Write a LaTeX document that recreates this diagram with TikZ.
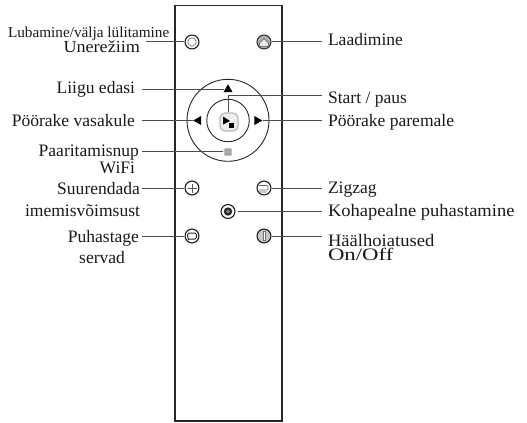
\documentclass[tikz,border=0pt]{standalone}
\usepackage{fontspec}
\setmainfont{Liberation Serif}
\usetikzlibrary{shapes.geometric}
\tikzset{
  lbl/.style={inner sep=0pt,outer sep=0pt,text=black!90,font=\fontsize{17.6}{19}\selectfont},
  lr/.style={lbl,anchor=base east},
  ll/.style={lbl,anchor=base west},
  btn/.style={circle,draw=black!90,line width=1.1pt,minimum size=14pt,inner sep=0pt,fill=white},
  ring/.style={circle,draw=black!85,line width=0.9pt,inner sep=0pt,fill=none},
  tri/.style={regular polygon,regular polygon sides=3,fill=black,inner sep=0pt,minimum size=10.5bp,draw=none},
  conn/.style={draw=black!70,line width=0.9pt},
  ico/.style={draw=black!60,line width=0.6pt,fill=none},
}
\begin{document}
\begin{tikzpicture}[x=1bp,y=-1bp]
\useasboundingbox (0,0) rectangle (527,422);
% remote body
\draw[black!85,line width=1.5pt] (174.8,5.3) rectangle (282,421.2);
% wheel
\node[ring,minimum size=82bp] (wheel) at (228,120.3) {};
\node[ring,minimum size=42.5bp] (hub) at (228,120.5) {};
% buttons
\node[btn] (power) at (192,42) {};
\node[btn,draw=black!80,fill=black!30] (dock) at (264,42) {};
\node[tri] (up) at (228,89.5) {};
\node[tri,rotate=90] (left) at (198.5,120.5) {};
\node[tri,rotate=-90] (right) at (257,120.5) {};
\node[draw=black!28,fill=black!7,line width=1.2pt,rounded corners=5bp,minimum size=18bp,inner sep=0pt] (start) at (229,122) {};
\node[draw=black!40,fill=black!25,rounded corners=1.5pt,minimum size=7.5pt,inner sep=0pt] (wifi) at (228,152) {};
\node[btn] (plus) at (192,188) {};
\node[btn] (zig) at (264,188) {};
\node[btn] (spot) at (228,211.5) {};
\node[btn,fill=black!22] (voice) at (264,236) {};
\node[btn] (edge) at (192,236) {};
% icons
\draw[ico] (power) circle (4.2bp);
\draw[black!70,fill=black!8,line width=0.5pt] (259.5,43) -- (264,38.5) -- (268.5,43) -- (268.5,46.5) -- (259.5,46.5) -- cycle;
\fill[black] (223,116.5) -- (223,124.5) -- (230,121) -- cycle;
\fill[black] (229,123) rectangle (234,128);
\draw[black!60,line width=0.5pt] (228,152) circle (2.2bp);
\draw[black!65,line width=0.7pt] (187.5,188) -- (196.5,188) (192,183.5) -- (192,192.5);
\draw[ico,rounded corners=1bp] (259,185.5) -- (268,185.5) -- (268,190) -- (259,190) (259,192) -- (267,192);
\fill[black!85] (228,211.5) circle (4.2bp);
\fill[black!45] (228,211.5) circle (1.8bp);
\draw[black!55,fill=white,line width=0.5pt] (263,231) rectangle (265.5,240);
\draw[black!85,line width=1pt,rounded corners=1.5bp] (188.5,240) -- (187.5,236) -- (187.5,233) -- (196.5,233) -- (196.5,239) -- (188,239);
% connector ends
\coordinate (cPower) at (146,41);
\coordinate (cDock) at (322,41);
\coordinate (cUp) at (142,89);
\coordinate (cStart) at (322,95);
\coordinate (cStartB) at (228,95);
\coordinate (cLeft) at (142,120.5);
\coordinate (cRight) at (322,120.5);
\coordinate (cWifi) at (142,151);
\coordinate (cPlus) at (142,188);
\coordinate (cZig) at (322,188);
\coordinate (cSpot) at (322,211);
\coordinate (cVoice) at (322,236);
\coordinate (cEdge) at (142,236);
\draw[conn] (cPower) -- (power.west |- cPower);
\draw[conn] (dock.east |- cDock) -- (cDock);
\draw[conn] (cUp) -- ([xshift=-1bp]up.west |- cUp);
\draw[conn] (cStartB |- start.north) -- (cStartB) -- (cStart);
\draw[conn] (cLeft) -- (193,120.5);
\draw[conn] (263,120.5) -- (cRight);
\draw[conn] (cWifi) -- ([xshift=-1bp]wifi.west |- cWifi);
\draw[conn] (cPlus) -- (plus.west);
\draw[conn] (zig.east) -- (cZig);
\draw[conn] ([xshift=2bp]spot.east |- cSpot) -- (cSpot);
\draw[conn] (voice.east) -- (cVoice);
\draw[conn] (cEdge) -- (edge.west);
% labels
\node[lbl,anchor=base west,font=\fontsize{15.3}{16}\selectfont] (t1) at (8,37.3) {Lubamine/välja lülitamine};
\node[lr,font=\fontsize{17}{18}\selectfont] (t2) at (140,52.7) {\scalebox{1.07}[1]{Unerežiim}};
\node[lr] (t3) at (135,93) {Liigu edasi};
\node[lr] (t4) at (135,126) {Pöörake vasakule};
\node[lr] (t5) at (139,156) {Paaritamisnup};
\node[lr] (t6) at (135,173) {WiFi};
\node[lr] (t7) at (140,194) {Suurendada};
\node[lr] (t8) at (140,216) {imemisvõimsust};
\node[lr] (t9) at (139,242.7) {Puhastage};
\node[lr] (t10) at (125,263) {servad};
\node[ll] (t11) at (328,45.7) {Laadimine};
\node[ll] (t12) at (328,103) {Start / paus};
\node[ll] (t13) at (328,126) {Pöörake paremale};
\node[ll] (t14) at (328,193) {Zigzag};
\node[ll] (t15) at (328,216.7) {\scalebox{1.055}[1]{Kohapealne puhastamine}};
\node[ll] (t16) at (328,246.7) {\scalebox{1.06}[1]{Häälhoiatused}};
\node[ll,font=\fontsize{17.6}{19}\selectfont] (t17) at (328,260.7) {\scalebox{1.3}[1]{On/Off}};
\end{tikzpicture}
\end{document}
